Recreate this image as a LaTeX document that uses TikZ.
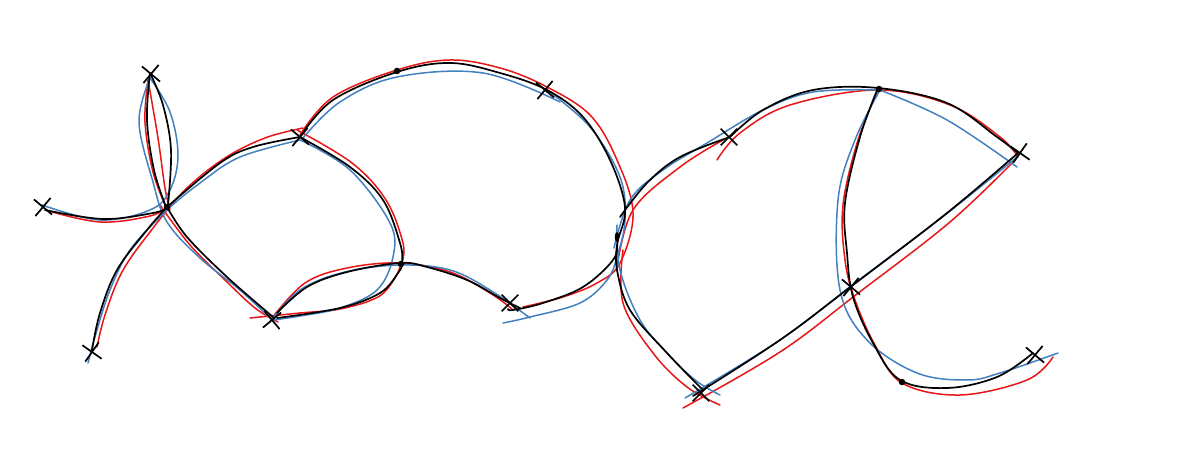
\documentclass[tikz,border=0pt]{standalone}
\usetikzlibrary{shapes.misc}
\definecolor{skred}{RGB}{232,22,22}
\definecolor{skblue}{RGB}{66,128,192}
\tikzset{
  crv/.style={line width=1.5pt, line cap=round, line join=round},
  blk/.style={crv, black, line width=1.7pt},
  rd/.style={crv, skred},
  bl/.style={crv, skblue},
  xm/.style={cross out, draw=black, line width=1.7pt, minimum size=15pt, inner sep=0pt},
  dot/.style={circle, fill=black, inner sep=0pt, minimum size=6.5pt},
}
\begin{document}
\begin{tikzpicture}[x=1pt,y=-1pt]
\useasboundingbox (0,0) rectangle (1185,462);
% ---------------- red ----------------
\draw[rd] plot[smooth,tension=0.6] coordinates {(45,210) (100,222) (150,216) (167,207)};
\draw[rd] plot[smooth,tension=0.6] coordinates {(166,207) (153,172) (145,122) (148,80)};
\draw[rd] plot[smooth,tension=0.6] coordinates {(148,80) (158,138) (165,188) (170,210)};
\draw[rd] plot[smooth,tension=0.6] coordinates {(97,347) (105,315) (122,272) (150,232) (185,190) (225,158) (265,138) (303,128)};
\draw[rd] plot[smooth,tension=0.6] coordinates {(160,205) (190,245) (225,280) (255,308) (278,322)};
\draw[rd] plot[smooth,tension=0.6] coordinates {(297,130) (352,163) (386,200) (403,243) (402,262)};
\draw[rd] plot[smooth,tension=0.6] coordinates {(272,318) (305,283) (347,268) (400,263) (450,272) (490,293) (512,309)};
\draw[rd] plot[smooth,tension=0.6] coordinates {(250,318) (300,313) (340,309) (378,297) (395,278) (400,266)};
\draw[rd] plot[smooth,tension=0.6] coordinates {(300,135) (333,97) (397,70) (450,60) (500,68) (545,86) (590,115) (617,160) (633,213) (620,263) (597,283) (563,297) (523,307)};
\draw[rd] plot[smooth,tension=0.6] coordinates {(617,267) (633,210) (680,167) (723,140)};
\draw[rd] plot[smooth,tension=0.6] coordinates {(717,160) (740,133) (790,105) (878,90) (950,105) (1000,137) (1018,157)};
\draw[rd] plot[smooth,tension=0.6] coordinates {(623,250) (623,303) (653,353) (687,387) (720,405)};
\draw[rd] plot[smooth,tension=0.6] coordinates {(683,408) (780,352) (857,294) (950,222) (1015,160)};
\draw[rd] plot[smooth,tension=0.6] coordinates {(878,90) (858,140) (843,205) (845,260) (855,300) (875,345) (902,383) (960,395) (1027,380) (1053,357)};
% ---------------- blue ----------------
\draw[bl] plot[smooth,tension=0.6] coordinates {(42,205) (100,220) (150,210) (170,190) (178,155) (170,112) (150,78)};
\draw[bl] plot[smooth,tension=0.6] coordinates {(150,78) (139,122) (153,182) (167,222) (200,258) (240,290) (270,318)};
\draw[bl] plot[smooth,tension=0.6] coordinates {(88,363) (97,330) (110,290) (130,250) (165,212) (200,183) (240,157) (300,140)};
\draw[bl] plot[smooth,tension=0.6] coordinates {(300,140) (350,170) (390,223) (393,257) (377,290) (340,308) (300,316) (273,320)};
\draw[bl] plot[smooth,tension=0.6] coordinates {(270,322) (300,290) (345,272) (400,265) (450,270) (490,290) (530,318)};
\draw[bl] plot[smooth,tension=0.6] coordinates {(303,138) (340,102) (397,77) (483,73) (560,102)};
\draw[bl] plot[smooth,tension=0.6] coordinates {(547,90) (590,127) (620,177) (625,220) (617,257) (607,280) (580,303) (530,317) (503,323)};
\draw[bl] plot[smooth,tension=0.6] coordinates {(614,248) (630,200) (663,170) (707,143) (763,110) (813,92) (880,90)};
\draw[bl] plot[smooth,tension=0.6] coordinates {(617,225) (620,270) (640,320) (667,353) (695,380) (720,395)};
\draw[bl] plot[smooth,tension=0.6] coordinates {(880,90) (947,120) (1017,167)};
\draw[bl] plot[smooth,tension=0.6] coordinates {(685,398) (780,340) (855,283) (945,215) (1017,157)};
\draw[bl] plot[smooth,tension=0.6] coordinates {(880,90) (855,140) (838,200) (840,290) (867,340) (917,373) (967,380) (1000,373) (1058,353)};
% ---------------- black ----------------
\draw[blk] plot[smooth,tension=0.6] coordinates {(45,210) (103,219) (153,213) (167,208)};
\draw[blk] plot[smooth,tension=0.6] coordinates {(150,73) (163,105) (171,150) (168,205)};
\draw[blk] plot[smooth,tension=0.6] coordinates {(150,73) (147,120) (154,170) (166,207)};
\draw[blk] plot[smooth,tension=0.6] coordinates {(167,207) (147,230) (117,270) (100,313) (92,350)};
\draw[blk] plot[smooth,tension=0.6] coordinates {(167,207) (220,163) (253,147) (300,137)};
\draw[blk] plot[smooth,tension=0.6] coordinates {(167,207) (187,237) (227,277) (273,317)};
\draw[blk] plot[smooth,tension=0.6] coordinates {(300,137) (350,167) (383,200) (400,243) (402,263) (398,273) (380,293) (340,308) (277,318)};
\draw[blk] plot[smooth,tension=0.6] coordinates {(277,313) (307,287) (347,272) (400,263) (427,267) (467,280) (500,298) (520,308)};
\draw[blk] plot[smooth,tension=0.6] coordinates {(300,137) (333,100) (397,72) (450,63) (500,73) (547,90) (583,117) (610,160) (625,207) (618,240) (613,260) (583,287) (543,303) (513,310) (508,309)};
\draw[blk] plot[smooth,tension=0.6] coordinates {(620,217) (647,183) (680,157) (730,137)};
\draw[blk] plot[smooth,tension=0.6] coordinates {(617,245) (617,270) (630,310) (667,353) (703,390)};
\draw[blk] plot[smooth,tension=0.6] coordinates {(730,137) (763,110) (813,90) (878,88) (947,103) (997,137) (1018,153)};
\draw[blk] plot[smooth,tension=0.6] coordinates {(693,396) (780,340) (853,285) (947,213) (1018,153)};
\draw[blk] plot[smooth,tension=0.6] coordinates {(878,88) (860,137) (845,203) (847,253) (853,297) (873,343) (900,380) (947,388) (997,377) (1033,353)};
% ---------------- markers ----------------
\node[xm, rotate=5]  (A) at (43,207) {};
\node[xm, rotate=5]  (B) at (151,74) {};
\node[xm, rotate=10] (D) at (92,352) {};
\node[xm, rotate=5]  (E) at (300,137) {};
\node[xm, rotate=-5] (F) at (272,320) {};
\node[xm, rotate=5]  (I) at (545,90) {};
\node[xm, rotate=0]  (J) at (510,303) {};
\node[xm, rotate=0]  (L) at (729,137) {};
\node[xm, rotate=10] (N) at (1020,153) {};
\node[xm, rotate=0]  (O) at (701,393) {};
\node[xm, rotate=5]  (P) at (851,287) {};
\node[xm, rotate=5]  (R) at (1035,355) {};
\node[dot] (C) at (167,207) {};
\node[dot] (G) at (401,264) {};
\node[dot] (H) at (397,71) {};
\node[dot, minimum size=4.5pt, yscale=2.2] (K) at (617,237) {};
\node[dot] (M) at (879,89) {};
\node[dot] (Q) at (902,382) {};
\end{tikzpicture}
\end{document}
